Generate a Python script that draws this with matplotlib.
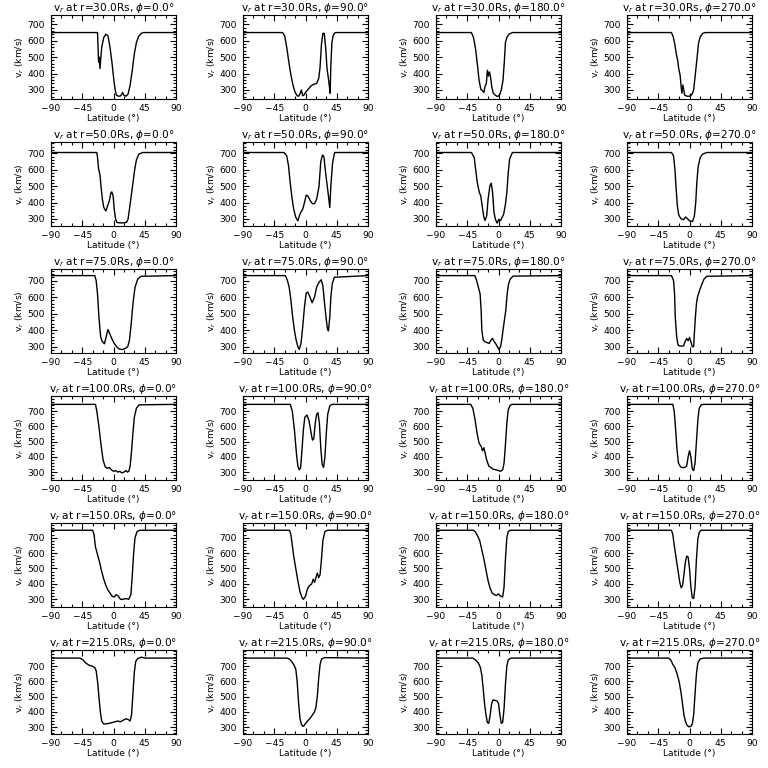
import matplotlib
matplotlib.use("Agg")
import matplotlib.pyplot as plt
from matplotlib.ticker import MultipleLocator

radii = [30.0, 50.0, 75.0, 100.0, 150.0, 215.0]
phis = [0.0, 90.0, 180.0, 270.0]
x_ticks = [-90, -45, 0, 45, 90]
y_ticks = [300, 400, 500, 600, 700]
row_ylim = [(245, 757), (257, 769), (262, 770), (248, 800), (250, 795), (255, 805)]

# r = 30 Rs
lat_30_0 = [-90, -23, -21.5, -20.5, -19.5, -17, -14, -11, -8, -5, -2, 0, 2, 4, 7, 10, 12, 13, 15, 18, 21, 24, 27, 30, 33, 36, 40, 43, 90]
v_30_0 = [650, 650, 470, 500, 430, 560, 620, 640, 630, 560, 460, 380, 310, 270, 262, 263, 275, 285, 268, 262, 275, 330, 420, 520, 590, 625, 645, 650, 650]
lat_30_90 = [-90, -33, -30, -27, -24, -21, -18, -15, -12, -10, -8, -6, -4, -2, 0, 4, 8, 12, 16, 19, 21, 23, 25, 27, 29, 31, 33, 35, 35.5, 36.5, 38, 40, 43, 90]
v_30_90 = [650, 650, 630, 560, 470, 390, 330, 285, 265, 262, 275, 300, 265, 270, 285, 305, 325, 335, 340, 370, 440, 580, 645, 645, 560, 430, 370, 300, 280, 450, 590, 635, 650, 650]
lat_30_180 = [-90, -39, -36, -33, -30, -28, -25.5, -23, -21, -19.5, -17.5, -16, -14.5, -13, -11.5, -9.5, -7.5, -5, -2.5, 0, 2, 4, 6.5, 8.5, 10, 12, 15, 20, 90]
v_30_180 = [650, 650, 620, 550, 440, 360, 305, 295, 285, 320, 340, 420, 385, 410, 380, 315, 280, 270, 262, 262, 275, 300, 360, 480, 590, 620, 640, 650, 650]
lat_30_270 = [-90, -26, -23.5, -21, -19, -17, -15.5, -13.5, -12, -11, -9.5, -7, -4, 0, 2, 4, 6, 8, 10.5, 13, 15.5, 19, 23, 90]
v_30_270 = [650, 650, 625, 575, 520, 480, 430, 390, 320, 280, 330, 270, 262, 262, 265, 278, 300, 380, 480, 585, 625, 645, 650, 650]

# r = 50 Rs
lat_50_0 = [-90, -24, -23, -21.5, -19.5, -18, -16, -14, -11, -8.5, -6, -4, -2.5, -0.5, 1, 3, 5, 10, 15, 19, 21, 23, 25.5, 28, 30.5, 33, 36.5, 42, 90]
v_50_0 = [705, 705, 675, 605, 570, 500, 420, 370, 348, 380, 410, 455, 465, 440, 360, 300, 278, 276, 276, 280, 300, 360, 440, 520, 600, 660, 695, 705, 705]
lat_50_90 = [-90, -31, -27, -24.5, -22, -19.5, -17, -14, -11, -9, -6.5, -4, -2, 1, 3.5, 7, 10, 13, 16, 19.5, 22, 24.5, 26.5, 29, 32.5, 35, 36.5, 39, 42, 90]
v_50_90 = [705, 705, 685, 625, 520, 430, 360, 310, 288, 318, 343, 360, 390, 445, 440, 410, 393, 393, 420, 500, 650, 690, 680, 580, 460, 370, 500, 643, 705, 705]
lat_50_180 = [-90, -39, -35, -33, -30.5, -27.5, -25.5, -23.5, -21.5, -19.5, -17, -15, -12.5, -10.5, -8.5, -6.5, -4.5, -2, 0.5, 3, 5, 7.5, 10, 12, 14, 16, 20, 90]
v_50_180 = [705, 705, 675, 605, 520, 460, 440, 380, 320, 290, 318, 420, 500, 518, 460, 340, 298, 275, 298, 290, 308, 330, 390, 460, 580, 665, 705, 705]
lat_50_270 = [-90, -26, -23, -21, -19.5, -17.5, -15.5, -12.5, -9, -5.5, -2.5, 1, 4.5, 7, 9, 10.5, 12.5, 15.5, 19, 25, 90]
v_50_270 = [705, 705, 685, 605, 500, 380, 325, 302, 295, 312, 300, 285, 285, 318, 400, 520, 620, 675, 695, 705, 705]

# r = 75 Rs
lat_75_0 = [-90, -27, -25, -23, -21, -18.5, -16, -13, -10, -8, -5.5, -2.5, 1, 4.5, 8, 13, 17, 20.5, 23, 25.5, 28, 31, 35, 40, 90]
v_75_0 = [730, 730, 700, 620, 480, 360, 330, 318, 370, 404, 380, 350, 320, 300, 286, 283, 290, 300, 340, 440, 560, 660, 710, 726, 730]
lat_75_90 = [-90, -29, -26, -23.5, -21, -18.5, -16, -13.5, -11, -9, -6.5, -4, -1.5, 1, 3.5, 6.5, 9.5, 13, 16, 19.5, 22.5, 25, 27, 29.5, 31.5, 33, 35, 36.5, 38.5, 41.5, 90]
v_75_90 = [730, 730, 700, 660, 580, 480, 400, 340, 300, 284, 320, 420, 540, 625, 630, 600, 566, 600, 660, 690, 705, 670, 580, 480, 410, 396, 480, 600, 680, 720, 730]
lat_75_180 = [-90, -34, -31.5, -29, -26.5, -25, -24, -22, -19.5, -16, -13.5, -11, -8.5, -6, -4, -1.5, 0.5, 3, 5, 6.5, 8.5, 10.5, 12.5, 14.5, 17, 21, 90]
v_75_180 = [730, 730, 700, 660, 620, 520, 400, 340, 330, 324, 320, 338, 350, 330, 318, 300, 284, 300, 350, 400, 460, 520, 620, 680, 710, 727, 730]
lat_75_270 = [-90, -26, -23, -21.5, -20.5, -18.5, -16.5, -13.5, -10, -8.5, -6.5, -4, -2, 0, 2, 4, 6, 7, 8.5, 10, 11.5, 14.5, 18, 21, 25, 90]
v_75_270 = [730, 730, 700, 620, 480, 360, 310, 304, 304, 305, 330, 350, 336, 356, 330, 300, 300, 380, 480, 560, 600, 640, 680, 710, 726, 730]

# r = 100 Rs
lat_100_0 = [-90, -26, -24, -21, -18, -15, -12, -9, -6, -3, 0, 3, 6, 9, 12, 15, 18, 20, 22, 24, 26, 28, 30, 33, 37, 90]
v_100_0 = [745, 745, 700, 600, 480, 380, 335, 325, 330, 315, 305, 310, 300, 305, 295, 300, 310, 300, 305, 340, 440, 560, 660, 720, 742, 745]
lat_100_90 = [-90, -22, -19, -16, -13, -11, -9, -7, -5, -3, -1, 2, 5, 8, 10, 12, 14, 16, 18, 20, 22, 24, 26, 28, 30, 32, 35, 38, 90]
v_100_90 = [745, 745, 700, 580, 420, 340, 315, 330, 450, 580, 660, 675, 640, 560, 510, 520, 620, 680, 690, 620, 460, 350, 330, 400, 560, 680, 735, 745, 745]
lat_100_180 = [-90, -40, -37, -34, -31, -28, -25, -23, -21, -19, -17, -14, -11, -8, -4, 0, 3, 6, 8, 10, 12, 14, 17, 20, 90]
v_100_180 = [745, 745, 720, 650, 560, 490, 470, 440, 460, 420, 380, 340, 330, 320, 315, 310, 305, 315, 360, 480, 620, 710, 740, 745, 745]
lat_100_270 = [-90, -24, -22, -20, -18, -16, -13, -10, -7, -4, -2, 0, 2, 4, 6, 8, 10, 12, 14, 17, 20, 90]
v_100_270 = [745, 745, 700, 580, 450, 360, 335, 330, 330, 340, 400, 440, 400, 320, 310, 360, 500, 640, 720, 742, 745, 745]

# r = 150 Rs
lat_150_0 = [-90, -30, -28, -26, -23, -20, -17, -14, -11, -8, -5, -2, 1, 4, 7, 10, 14, 18, 22, 25, 27, 29, 31, 34, 38, 90]
v_150_0 = [748, 748, 720, 640, 590, 540, 480, 430, 390, 360, 340, 320, 315, 330, 320, 300, 300, 305, 300, 330, 450, 600, 700, 740, 748, 748]
lat_150_90 = [-90, -23, -21, -19, -17, -14, -11, -8, -5, -3, 0, 3, 6, 9, 11, 13, 15, 17, 19, 21, 23, 25, 28, 32, 90]
v_150_90 = [748, 748, 720, 650, 580, 500, 420, 350, 310, 300, 320, 370, 390, 400, 430, 410, 440, 470, 440, 460, 560, 680, 740, 748, 748]
lat_150_180 = [-90, -36, -33, -30, -27, -24, -21, -18, -15, -12, -9, -6, -3, 0, 3, 6, 8, 10, 12, 14, 17, 90]
v_150_180 = [748, 748, 735, 710, 680, 620, 560, 490, 420, 370, 340, 330, 325, 335, 320, 315, 380, 560, 700, 740, 748, 748]
lat_150_270 = [-90, -26, -24, -22, -19, -16, -14, -12, -10, -8, -6, -4, -2, 0, 2, 4, 6, 8, 10, 12, 14, 17, 90]
v_150_270 = [748, 748, 720, 650, 560, 470, 410, 375, 390, 460, 540, 580, 575, 500, 380, 310, 305, 380, 560, 690, 735, 748, 748]

# r = 215 Rs
lat_215_0 = [-90, -48, -44, -40, -35, -31, -27, -25, -23, -21, -19, -17, -14, -10, -6, -2, 2, 6, 10, 14, 18, 21, 24, 26, 28, 30, 32, 35, 40, 45, 90]
v_215_0 = [752, 752, 740, 720, 705, 700, 690, 670, 600, 500, 400, 340, 320, 322, 325, 330, 335, 340, 335, 345, 355, 350, 340, 380, 520, 660, 730, 750, 758, 752, 752]
lat_215_90 = [-90, -27, -23, -20, -17, -14, -12, -10, -8, -6, -4, -2, 1, 4, 7, 10, 13, 15, 17, 19, 21, 23, 27, 90]
v_215_90 = [752, 752, 745, 730, 710, 680, 600, 460, 360, 320, 305, 310, 330, 345, 360, 380, 400, 430, 500, 620, 710, 745, 755, 752]
lat_215_180 = [-90, -37, -33, -29, -26, -24, -22, -20, -18, -16, -14, -12, -10, -8, -5, -2, 0, 2, 4, 6, 8, 10, 12, 14, 18, 90]
v_215_180 = [752, 752, 740, 720, 690, 640, 550, 450, 380, 330, 325, 380, 450, 478, 475, 470, 455, 380, 325, 330, 420, 580, 700, 740, 752, 752]
lat_215_270 = [-90, -30, -27, -24, -21, -18, -15, -12, -10, -8, -6, -4, -1, 2, 4, 6, 8, 10, 12, 15, 20, 90]
v_215_270 = [752, 752, 740, 710, 690, 650, 600, 520, 450, 380, 340, 315, 302, 305, 320, 380, 520, 650, 720, 745, 752, 752]

lats = [
    [lat_30_0, lat_30_90, lat_30_180, lat_30_270],
    [lat_50_0, lat_50_90, lat_50_180, lat_50_270],
    [lat_75_0, lat_75_90, lat_75_180, lat_75_270],
    [lat_100_0, lat_100_90, lat_100_180, lat_100_270],
    [lat_150_0, lat_150_90, lat_150_180, lat_150_270],
    [lat_215_0, lat_215_90, lat_215_180, lat_215_270],
]
vels = [
    [v_30_0, v_30_90, v_30_180, v_30_270],
    [v_50_0, v_50_90, v_50_180, v_50_270],
    [v_75_0, v_75_90, v_75_180, v_75_270],
    [v_100_0, v_100_90, v_100_180, v_100_270],
    [v_150_0, v_150_90, v_150_180, v_150_270],
    [v_215_0, v_215_90, v_215_180, v_215_270],
]

plt.rcParams['font.family'] = ['DejaVu Sans']
plt.rcParams['mathtext.fontset'] = 'dejavusans'

W = 768.0
fig = plt.figure(figsize=(7.68, 7.68), dpi=100)
col_left = [51, 243, 436, 627]
col_width = 125
row_top = [15, 142, 269, 396, 523, 650]
row_h = 84

fs = 6.6
for i, r in enumerate(radii):
    for j, ph in enumerate(phis):
        left = col_left[j] / W
        bottom = (W - row_top[i] - row_h) / W
        ax = fig.add_axes([left, bottom, col_width / W, row_h / W])
        ax.plot(lats[i][j], vels[i][j], color='black', lw=1.0)
        ax.set_xlim(-90, 90)
        ax.set_ylim(*row_ylim[i])
        ax.set_xticks(x_ticks)
        ax.set_yticks(y_ticks)
        ax.xaxis.set_minor_locator(MultipleLocator(15))
        ax.yaxis.set_minor_locator(MultipleLocator(20))
        ax.tick_params(which='both', direction='in', top=True, right=True,
                       labelsize=fs, width=0.8)
        ax.tick_params(axis='y', which='major', pad=4.5)
        ax.tick_params(axis='x', which='major', pad=3.5)
        ax.tick_params(which='major', length=4)
        ax.tick_params(which='minor', length=2)
        for s in ax.spines.values():
            s.set_linewidth(0.8)
        ax.set_title(r'v$_r$ at r=%.1fRs, $\phi$=%.1f°' % (r, ph), fontsize=7.6, pad=2)
        ax.set_ylabel(r'v$_r$ (km/s)', fontsize=fs, labelpad=0.5)
        ax.set_xlabel('Latitude (°)', fontsize=fs, labelpad=0.5)

fig.savefig('out.png', dpi=100, facecolor='white')
